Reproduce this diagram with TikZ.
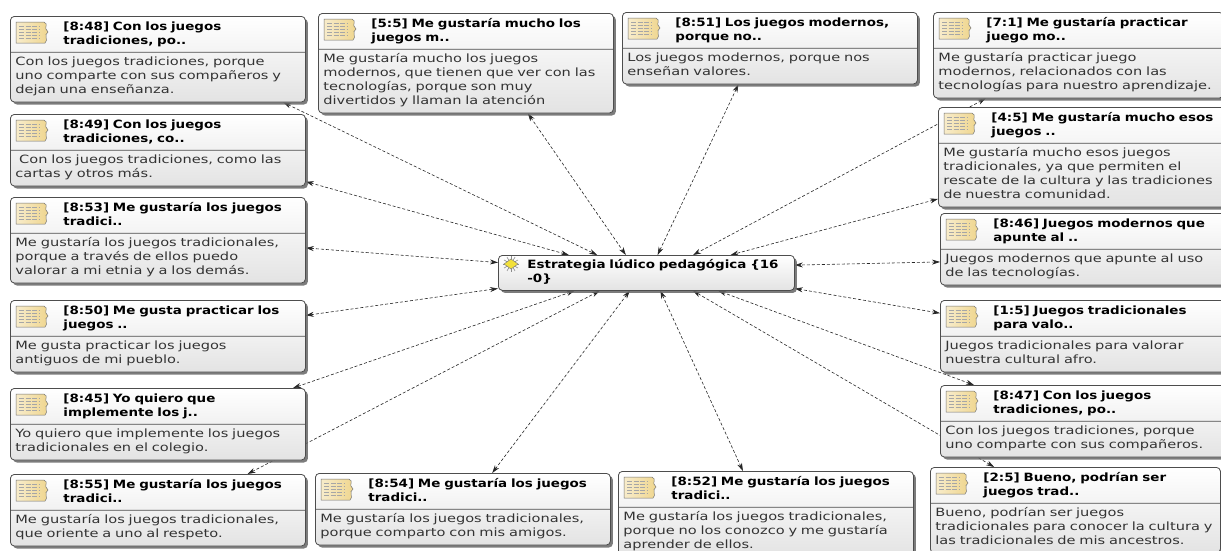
\documentclass[tikz,border=0pt]{standalone}
\usepackage{fontspec}
\setmainfont[FakeStretch=1.28]{DejaVu Sans}
\newfontfamily\titulo[FakeStretch=1.18]{DejaVu Sans}
\usepackage{tikz}
\usetikzlibrary{arrows.meta,shapes.multipart,shadows,backgrounds}

\definecolor{borde}{HTML}{4D4D4D}
\definecolor{fondo}{HTML}{E3E3E3}
\definecolor{papel}{HTML}{EFD58C}
\definecolor{gema}{HTML}{F2E03A}

\tikzset{
  caja/.style={draw=borde, line width=0.8pt, rounded corners=4pt,
    top color=white, bottom color=fondo, anchor=north west,
    inner xsep=5pt, inner ysep=3.5pt, align=left, text=black!80,
    font=\fontsize{11.4}{14}\selectfont,
    drop shadow={shadow xshift=2.5pt, shadow yshift=-2.5pt, fill=black!60, opacity=0.85}},
  nota/.style={caja, rectangle split, rectangle split parts=2, text width=285pt},
  notader/.style={nota, text width=280pt},
  codigo/.style={caja, rectangle, text width=286pt},
  enlace/.style={black!85, line width=0.6pt, dash pattern=on 3pt off 2pt,
    >={Stealth[length=8pt,width=5pt]}, <->},
  doc/.pic={
    % 紙(右端は破れた形)
    \path[draw=black!55, line width=0.5pt, left color=papel!45, right color=papel]
      (0,0) -- (28,0) .. controls (33,2) and (27,6) .. (32,10)
      .. controls (27,13) and (33,18) .. (29,21) -- (0,21) -- cycle;
    % 文字の線
    \foreach \y in {4,7,...,18}
      \draw[black!35, line width=0.7pt, dash pattern=on 5pt off 1.5pt] (3,\y) -- (23,\y);
  },
  gema/.pic={
    \foreach \a in {0,30,...,330}
      \draw[black!45, line width=0.6pt] (0,0) -- (\a:8);
    \path[draw=black!50, fill=gema, line width=0.5pt] (-7,0) -- (0,-5) -- (7,0) -- (0,5) -- cycle;
  }
}

\begin{document}
\begin{tikzpicture}[x=1pt, y=-1pt]
  % 1単位 = 1px(y は下向き)
  \useasboundingbox (0,0) rectangle (1221,550);

  % 引用の中身: 見出し2行 + 本文
  \def\cita#1#2#3{\parindent=0pt\rightskip=-20pt plus 1fil\relax
    \strut\color{black}\titulo\bfseries\hspace*{48pt}#1\\\hspace*{48pt}#2\strut
    \nodepart{two}\parindent=0pt\rightskip=-20pt plus 1fil\relax\strut #3\strut}

  % 中央のコード
  \node[codigo] (est) at (498,255) {\parindent=0pt\rightskip=-20pt plus 1fil\relax
    \strut\color{black}\titulo\bfseries\hspace*{24pt}Estrategia lúdico pedagógica \{16\\\hspace*{24pt}-0\}\strut};

  % 左の列
  \node[nota] (q848) at (10,16) {\cita{[8:48] Con los juegos}{tradiciones, po..}{Con los juegos tradiciones, porque\\uno comparte con sus compañeros y\\dejan una enseñanza.}};
  \node[nota] (q849) at (10,114) {\cita{[8:49] Con los juegos}{tradiciones, co..}{~Con los juegos tradiciones, como las\\cartas y otros más.}};
  \node[nota] (q853) at (10,197) {\cita{[8:53] Me gustaría los juegos}{tradici..}{Me gustaría los juegos tradicionales,\\porque a través de ellos puedo\\valorar a mi etnia y a los demás.}};
  \node[nota] (q850) at (10,300) {\cita{[8:50] Me gusta practicar los}{juegos ..}{Me gusta practicar los juegos\\antiguos de mi pueblo.}};
  \node[nota] (q845) at (10,388) {\cita{[8:45] Yo quiero que}{implemente los j..}{Yo quiero que implemente los juegos\\tradicionales en el colegio.}};
  \node[nota] (q855) at (10,474) {\cita{[8:55] Me gustaría los juegos}{tradici..}{Me gustaría los juegos tradicionales,\\que oriente a uno al respeto.}};

  % 上と下の中央
  \node[nota] (q55) at (318,13) {\cita{[5:5] Me gustaría mucho los}{juegos m..}{Me gustaría mucho los juegos\\modernos, que tienen que ver con las\\tecnologías, porque son muy\\divertidos y llaman la atención}};
  \node[nota] (q851) at (622,12) {\cita{[8:51] Los juegos modernos,}{porque no..}{Los juegos modernos, porque nos\\enseñan valores.}};
  \node[nota] (q854) at (315,473) {\cita{[8:54] Me gustaría los juegos}{tradici..}{Me gustaría los juegos tradicionales,\\porque comparto con mis amigos.}};
  \node[nota] (q852) at (618,471) {\cita{[8:52] Me gustaría los juegos}{tradici..}{Me gustaría los juegos tradicionales,\\porque no los conozco y me gustaría\\aprender de ellos.}};

  % 右の列
  \node[notader] (q71) at (933,12) {\cita{[7:1] Me gustaría practicar}{juego mo..}{Me gustaría practicar juego\\modernos, relacionados con las\\tecnologías para nuestro aprendizaje.}};
  \node[notader] (q45) at (938,107) {\cita{[4:5] Me gustaría mucho esos}{juegos ..}{Me gustaría mucho esos juegos\\tradicionales, ya que permiten el\\rescate de la cultura y las tradiciones\\de nuestra comunidad.}};
  \node[notader] (q846) at (940,213) {\cita{[8:46] Juegos modernos que}{apunte al ..}{Juegos modernos que apunte al uso\\de las tecnologías.}};
  \node[notader] (q15) at (940,300) {\cita{[1:5] Juegos tradicionales}{para valo..}{Juegos tradicionales para valorar\\nuestra cultural afro.}};
  \node[notader] (q847) at (940,385) {\cita{[8:47] Con los juegos}{tradiciones, po..}{Con los juegos tradiciones, porque\\uno comparte con sus compañeros.}};
  \node[notader] (q25) at (930,467) {\cita{[2:5] Bueno, podrían ser}{juegos trad..}{Bueno, podrían ser juegos\\tradicionales para conocer la cultura y\\las tradicionales de mis ancestros.}};

  % アイコン
  \foreach \n in {q848,q849,q853,q850,q845,q855,q55,q851,q854,q852,q71,q45,q846,q15,q847,q25}
    \pic at ([shift={(6,6)}]\n.north west) {doc};
  \pic at ([shift={(13,9)}]est.north west) {gema};

  % 両矢印の破線(ノードの後ろ)
  \begin{scope}[on background layer]
    \fill[white] (0,0) rectangle (1221,550);
    \foreach \n/\a/\b in {q848/-19.5/160, q849/-12/167.5, q55/-39/139.4, q851/-131/58.6,
        q71/-155.7/21.8, q45/-164.6/12.1, q846/-175.7/3.1, q15/171.4/-6.6,
        q847/162.5/-14.6, q25/152.9/-21.8, q852/118.8/-52.1, q854/51/-133.4,
        q855/22.6/-159.4, q845/15.2/-166.5, q850/8.5/-174.6, q853/-3.9/176.9}
      \draw[enlace] (\n.\a) -- (est.\b);
  \end{scope}
\end{tikzpicture}
\end{document}
